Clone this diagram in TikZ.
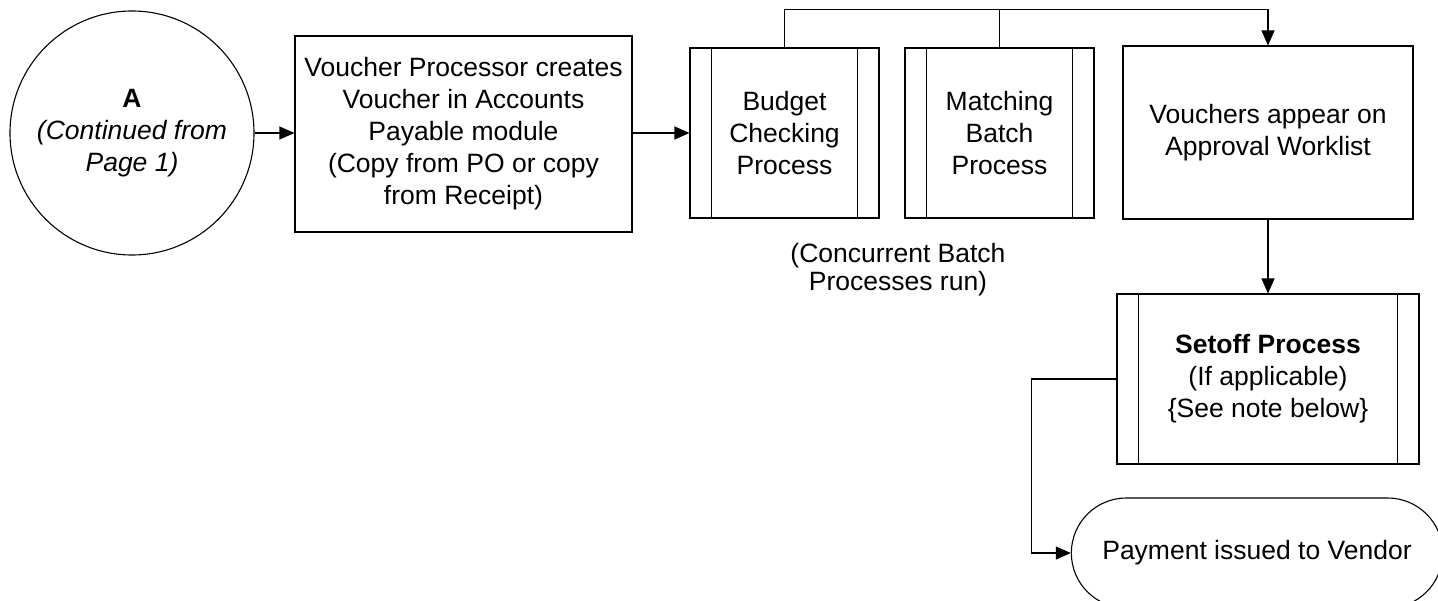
\documentclass[tikz,border=0pt]{standalone}
\usepackage{fontspec}
\setmainfont{Liberation Sans}
\usetikzlibrary{shapes.misc, arrows.meta}

\tikzset{
    flow/.style={line width=1.1pt, -{Triangle[length=15pt, width=13pt]}},
    link/.style={line width=1.1pt},
    txt/.style={font=\fontsize{26.5}{32}\selectfont, align=center},
    procbox/.style={txt, draw, line width=1.1pt, rectangle, inner sep=0pt},
    subproc/.style={procbox, minimum width=189pt, minimum height=170pt},
    startcirc/.style={txt, draw, line width=1.1pt, circle, minimum size=244pt, inner sep=0pt},
    termbox/.style={txt, draw, line width=1.1pt, rounded rectangle, minimum width=378pt, minimum height=110pt}
}

\newcommand{\stripes}[1]{
    \draw[link] ([xshift=22pt]#1.north west) -- ([xshift=22pt]#1.south west);
    \draw[link] ([xshift=-22pt]#1.north east) -- ([xshift=-22pt]#1.south east);
}

\begin{document}
\begin{tikzpicture}[x=1pt, y=-1pt]
    \useasboundingbox (0,0) rectangle (1438,601);
    \clip (0,0) rectangle (1438,601);

    \def\ymid{133}
    \def\xright{1268}

% top row

    \node[startcirc] (contA) at (132, \ymid) {\textbf{A}\\\textit{(Continued from}\\\textit{Page 1)}};
    \node[procbox, minimum width=337pt, minimum height=196pt] (create) at (463.5, 134)
        {Voucher Processor creates\\Voucher in Accounts\\Payable module\\(Copy from PO or copy\\from Receipt)};
    \node[subproc] (budget) at (784.5, \ymid) {Budget\\Checking\\Process};
    \node[subproc] (match) at (999.5, \ymid) {Matching\\Batch\\Process};
    \node[procbox, minimum width=290pt, minimum height=173pt] (worklist) at (\xright, 132.5)
        {Vouchers appear on\\Approval Worklist};
    \stripes{budget}
    \stripes{match}

    \node[txt, font=\fontsize{26.5}{28}\selectfont] (concur) at (898, 270) {(Concurrent Batch\\Processes run)};

% right column

    \node[subproc, minimum width=302pt] (setoff) at (\xright, 379)
        {\textbf{Setoff Process}\\(If applicable)\\\{See note below\}};
    \stripes{setoff}
    \node[termbox] (pay) at (1257, 553) {Payment issued to Vendor};

% connectors

    \draw[flow] (contA.east) -- (contA.east -| create.west);
    \draw[flow] (create.east |- budget.west) -- (budget.west);
    \draw[flow] (budget.north) -- ++(0,-38) coordinate (bus) -| (worklist.north);
    \draw[link] (match.north) -- (match.north |- bus);
    \draw[flow] (worklist.south) -- (setoff.north);
    \draw[flow] (setoff.west) -- ++(-85,0) |- (pay.west);

\end{tikzpicture}
\end{document}
